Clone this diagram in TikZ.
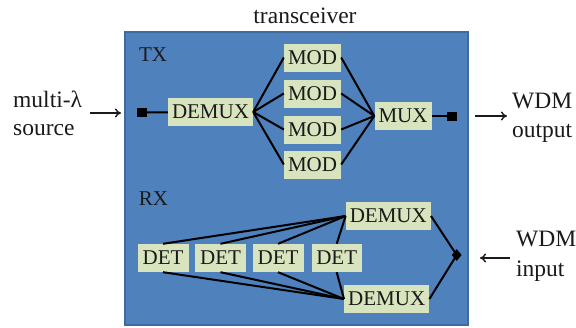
\documentclass[tikz,border=0pt]{standalone}
\usepackage{fontspec}
\setmainfont{Liberation Serif}
\usetikzlibrary{arrows.meta,shapes.geometric}

\definecolor{panelblue}{HTML}{4F81BD}
\definecolor{paneledge}{HTML}{3D6B9F}
\definecolor{blockgreen}{HTML}{D7E4BD}
\definecolor{inktext}{HTML}{1A1A1A}

\tikzset{
  panel/.style={fill=panelblue, draw=paneledge, line width=1.5pt, inner sep=0pt},
  block/.style={fill=blockgreen, minimum height=28pt, inner xsep=4pt, inner ysep=0pt,
    font=\fontsize{21}{24}\selectfont, text=inktext},
  port/.style={fill=black, minimum width=10pt, minimum height=9pt, inner sep=0pt},
  joint/.style={diamond, fill=black, minimum width=10pt, minimum height=12pt, inner sep=0pt},
  link/.style={line width=2pt, black},
  feed/.style={line width=1.4pt, inktext, -{To[length=6pt,width=9pt]}},
  outer/.style={font=\fontsize{23.5}{28}\selectfont, text=inktext, align=left, inner sep=0pt}
}

\begin{document}
\begin{tikzpicture}[x=1pt,y=-1pt]
    \useasboundingbox (0,0) rectangle (576,327);

    % Draw the transceiver panel
    \node [panel, minimum width=343pt, minimum height=293pt] (trx) at (296.5,178.5) {};
    \node [outer, anchor=base] (title) at (305,23) {transceiver};
    \node [anchor=base, inner sep=0pt, font=\fontsize{21}{24}\selectfont, text=inktext] (txlabel) at (153,61) {TX};
    \node [anchor=base, inner sep=0pt, font=\fontsize{21}{24}\selectfont, text=inktext] (rxlabel) at (153.5,205) {RX};

    % Define the TX blocks
    \node [port] (portin) at (141.5,112.5) {};
    \node [block] (demuxtx) at (210.5,112) {DEMUX};
    \node [block] (mod1) at (312.5,57.5) {MOD};
    \node [block] (mod2) at (312.5,93.5) {MOD};
    \node [block] (mod3) at (312.5,129.5) {MOD};
    \node [block] (mod4) at (312.5,164.5) {MOD};
    \node [block] (mux) at (403,116) {MUX};
    \node [port] (portout) at (452,116) {};

    % Define the RX blocks
    \node [block] (demuxa) at (388.3,216) {DEMUX};
    \node [block] (demuxb) at (386.7,299) {DEMUX};
    \node [block, minimum width=51pt] (det1) at (163,258) {DET};
    \node [block, minimum width=51pt] (det2) at (220.5,258) {DET};
    \node [block, minimum width=51pt] (det3) at (278,258) {DET};
    \node [block, minimum width=50pt] (det4) at (336.7,258) {DET};
    \node [joint] (join) at (456.7,255) {};

    % Draw the TX links
    \draw [link] (portin) -- (demuxtx);
    \draw [link] (demuxtx.east) -- (mod1.west);
    \draw [link] (demuxtx.east) -- (mod2.west);
    \draw [link] (demuxtx.east) -- (mod3.west);
    \draw [link] (demuxtx.east) -- (mod4.west);
    \draw [link] (mod1.east) -- (mux.west);
    \draw [link] (mod2.east) -- (mux.west);
    \draw [link] (mod3.east) -- (mux.west);
    \draw [link] (mod4.east) -- (mux.west);
    \draw [link] (mux) -- (portout);

    % Draw the RX links
    \draw [link] (det1.north) -- (demuxa.west);
    \draw [link] (det2.north) -- (demuxa.west);
    \draw [link] (det3.north) -- (demuxa.west);
    \draw [link] (det4.north) -- (demuxa.west);
    \draw [link] (det1.south) -- (demuxb.west);
    \draw [link] (det2.south) -- (demuxb.west);
    \draw [link] (det3.south) -- (demuxb.west);
    \draw [link] (det4.south) -- (demuxb.west);
    \draw [link] (demuxa.east) -- (join.center);
    \draw [link] (demuxb.east) -- (join.center);

    % Draw the outside labels and arrows
    \node [outer, anchor=west] (srctext) at (13,113) {multi-λ\\source};
    \node [outer, anchor=west, font=\fontsize{23.5}{29}\selectfont] (outtext) at (512,118) {WDM\\output};
    \node [outer, anchor=west, font=\fontsize{23.5}{30}\selectfont] (intext) at (516,256) {WDM\\input};
    \coordinate (srctail) at (90,113);
    \coordinate (srchead) at (121,113);
    \coordinate (outtail) at (475,116);
    \coordinate (outhead) at (507,116);
    \coordinate (intail) at (510,258);
    \coordinate (inhead) at (480,258);
    \draw [feed] (srctail) -- (srchead);
    \draw [feed] (outtail) -- (outhead);
    \draw [feed] (intail) -- (inhead);

\end{tikzpicture}
\end{document}
